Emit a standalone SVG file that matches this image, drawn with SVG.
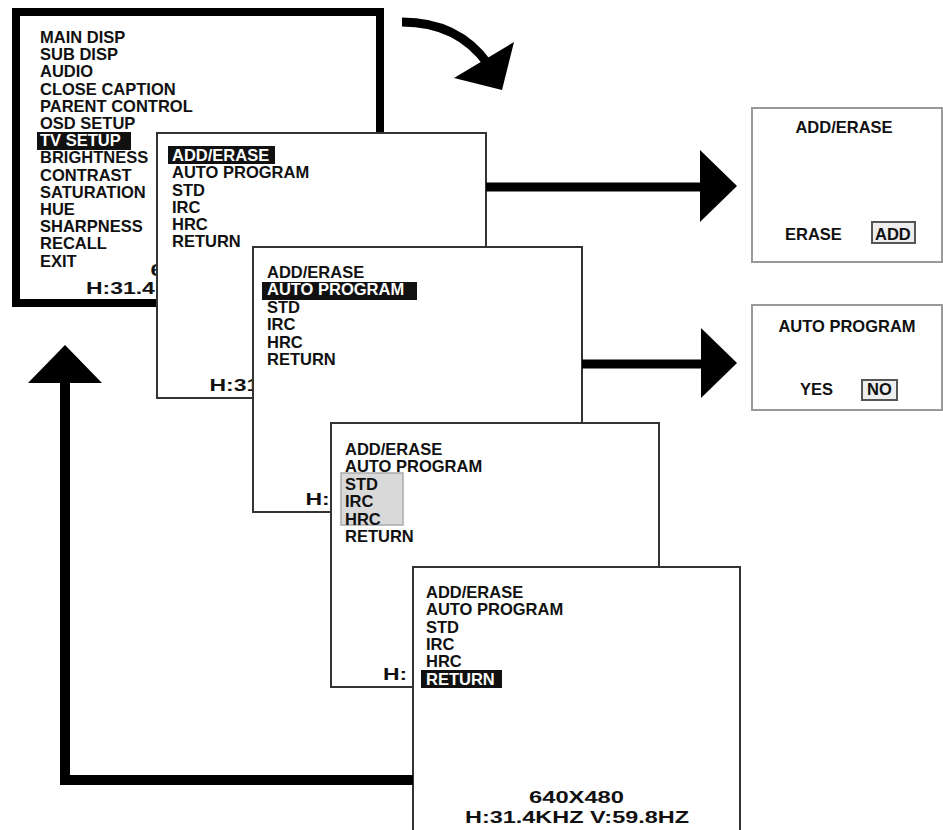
<svg xmlns="http://www.w3.org/2000/svg" width="943" height="830" viewBox="0 0 943 830">
<style>
.t{font-family:"Liberation Sans",Arial,Helvetica,sans-serif;font-weight:bold;font-size:16.5px;fill:#111}
.b{font-size:17px}
.w{fill:#fff}
.c{text-anchor:middle}
.hl{fill:#111}
.box{fill:#fff;stroke:#333;stroke-width:2}
.main{fill:#fff;stroke:#000;stroke-width:8}
.rbox{fill:#fff;stroke:#999;stroke-width:2}
.sel{fill:#eee;stroke:#555;stroke-width:2}
.gsel{fill:#d9d9d9;stroke:#aaa;stroke-width:1.5}
.ln{fill:none;stroke:#000}
.hd{fill:#000}
</style>
<rect width="943" height="830" fill="#fff"/>

<g id="main-menu">
<rect class="main" x="16" y="12" width="364" height="291"/>
<rect class="hl" x="37" y="132" width="94" height="18"/>
<text class="t" x="40" y="43">MAIN DISP</text>
<text class="t" x="40" y="60.2">SUB DISP</text>
<text class="t" x="40" y="77.4">AUDIO</text>
<text class="t" x="40" y="94.6">CLOSE CAPTION</text>
<text class="t" x="40" y="111.8">PARENT CONTROL</text>
<text class="t" x="40" y="129">OSD SETUP</text>
<text class="t w" x="40" y="146.2">TV SETUP</text>
<text class="t" x="40" y="163.4">BRIGHTNESS</text>
<text class="t" x="40" y="180.6">CONTRAST</text>
<text class="t" x="40" y="197.8">SATURATION</text>
<text class="t" x="40" y="215">HUE</text>
<text class="t" x="40" y="232.2">SHARPNESS</text>
<text class="t" x="40" y="249.4">RECALL</text>
<text class="t" x="40" y="266.6">EXIT</text>
<text class="t b" transform="translate(150.5,276) scale(1.35,1)">6</text>
<text class="t b" transform="translate(86,294) scale(1.35,1)">H:31.4</text>
</g>

<g id="tv-setup-add-erase">
<rect class="box" x="157" y="133" width="329" height="265"/>
<rect class="hl" x="168" y="146" width="107" height="18"/>
<text class="t w" x="172" y="161">ADD/ERASE</text>
<text class="t" x="172" y="178.3">AUTO PROGRAM</text>
<text class="t" x="172" y="195.5">STD</text>
<text class="t" x="172" y="212.8">IRC</text>
<text class="t" x="172" y="230">HRC</text>
<text class="t" x="172" y="247.3">RETURN</text>
<text class="t b" transform="translate(209.5,391) scale(1.35,1)">H:31</text>
</g>

<g id="tv-setup-auto-program">
<rect class="box" x="253" y="247" width="329" height="265"/>
<rect class="hl" x="262" y="282" width="155" height="18"/>
<text class="t" x="267" y="278">ADD/ERASE</text>
<text class="t w" x="267" y="295.4">AUTO PROGRAM</text>
<text class="t" x="267" y="312.8">STD</text>
<text class="t" x="267" y="330.2">IRC</text>
<text class="t" x="267" y="347.6">HRC</text>
<text class="t" x="267" y="365">RETURN</text>
<text class="t b" transform="translate(305.5,505) scale(1.35,1)">H:</text>
</g>

<g id="tv-setup-band">
<rect class="box" x="331" y="423" width="328" height="264"/>
<rect class="gsel" x="341" y="473" width="62" height="52"/>
<text class="t" x="345" y="455">ADD/ERASE</text>
<text class="t" x="345" y="472.4">AUTO PROGRAM</text>
<text class="t" x="345" y="489.8">STD</text>
<text class="t" x="345" y="507.2">IRC</text>
<text class="t" x="345" y="524.6">HRC</text>
<text class="t" x="345" y="542">RETURN</text>
<text class="t b" transform="translate(383,680) scale(1.35,1)">H:</text>
</g>

<g id="tv-setup-return">
<rect class="box" x="413" y="567" width="327" height="264"/>
<rect class="hl" x="421" y="670" width="81" height="18"/>
<text class="t" x="426" y="598">ADD/ERASE</text>
<text class="t" x="426" y="615.3">AUTO PROGRAM</text>
<text class="t" x="426" y="632.6">STD</text>
<text class="t" x="426" y="649.9">IRC</text>
<text class="t" x="426" y="667.2">HRC</text>
<text class="t w" x="426" y="684.5">RETURN</text>
<text class="t b" x="529" y="803" textLength="95" lengthAdjust="spacingAndGlyphs">640X480</text>
<text class="t b" x="465" y="823" textLength="224" lengthAdjust="spacingAndGlyphs">H:31.4KHZ V:59.8HZ</text>
</g>

<g id="add-erase-dialog">
<rect class="rbox" x="752" y="108" width="190" height="154"/>
<text class="t c" x="844" y="133">ADD/ERASE</text>
<text class="t" x="785" y="240">ERASE</text>
<rect class="sel" x="872" y="222" width="43" height="21"/>
<text class="t" x="875" y="240">ADD</text>
</g>

<g id="auto-program-dialog">
<rect class="rbox" x="752" y="305" width="190" height="105"/>
<text class="t c" x="847" y="332">AUTO PROGRAM</text>
<text class="t" x="800" y="395">YES</text>
<rect class="sel" x="862" y="380" width="35" height="20"/>
<text class="t" x="867" y="395">NO</text>
</g>

<g id="connectors">
<path class="ln" d="M402,22 Q458,22 488,64" stroke-width="9"/>
<polygon class="hd" points="514,42 454,78 502,90"/>
<line class="ln" x1="486" y1="187" x2="702" y2="187" stroke-width="9"/>
<polygon class="hd" points="700,150 737,186 700,222"/>
<line class="ln" x1="582" y1="364" x2="703" y2="364" stroke-width="9"/>
<polygon class="hd" points="701,328 737,363 701,398"/>
<path class="ln" d="M413,780 H65 V381" stroke-width="10"/>
<polygon class="hd" points="28,383 65,345 102,383"/>
</g>
</svg>
